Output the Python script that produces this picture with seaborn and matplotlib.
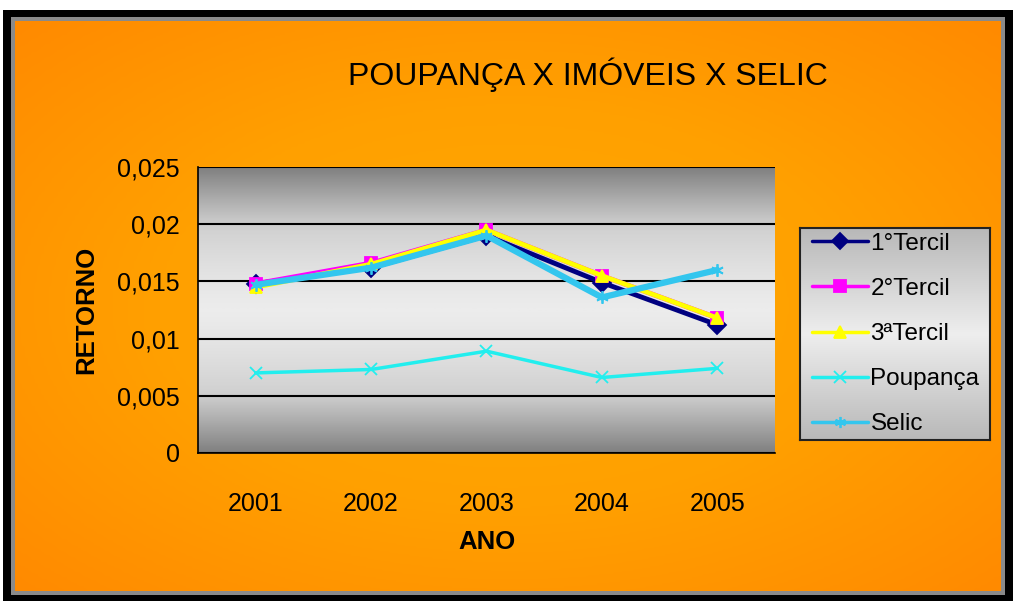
import numpy as np
import pandas as pd
import matplotlib
matplotlib.use("Agg")
import matplotlib.pyplot as plt
from matplotlib.patches import Rectangle
from matplotlib.colors import LinearSegmentedColormap
import seaborn as sns

anos = ["2001", "2002", "2003", "2004", "2005"]
tercil_1 = [0.0148, 0.0162, 0.0190, 0.0149, 0.0112]
tercil_2 = [0.0148, 0.0166, 0.0195, 0.0155, 0.0118]
tercil_3 = [0.0145, 0.0165, 0.0195, 0.0155, 0.0118]
poupanca = [0.0070, 0.0073, 0.0089, 0.0066, 0.0074]
selic = [0.0147, 0.0162, 0.0190, 0.0136, 0.0160]

series = {
    "1°Tercil": tercil_1,
    "2°Tercil": tercil_2,
    "3ªTercil": tercil_3,
    "Poupança": poupanca,
    "Selic": selic,
}
cores = {"1°Tercil": "#000080", "2°Tercil": "#ff00ff", "3ªTercil": "#ffff00",
         "Poupança": "#22eeee", "Selic": "#33c6ee"}
marcadores = {"1°Tercil": "D", "2°Tercil": "s", "3ªTercil": "^",
              "Poupança": "x", "Selic": (6, 2, 0)}
larguras = {"1°Tercil": 3.5, "2°Tercil": 3.5, "3ªTercil": 3.5,
            "Poupança": 2.5, "Selic": 4.5}

rows = []
for nome, vals in series.items():
    for i, v in enumerate(vals):
        rows.append({"pos": i, "ano": anos[i], "serie": nome, "retorno": v})
df = pd.DataFrame(rows)

sns.set_theme(style="white")
plt.rcParams["font.family"] = ["Liberation Sans", "DejaVu Sans"]
plt.rcParams["text.color"] = "black"
plt.rcParams["axes.labelcolor"] = "black"

W, H = 1017, 603
fig = plt.figure(figsize=(W / 100, H / 100), dpi=100)
fig.patch.set_facecolor("white")

def fx(px):
    return px / W

def fy(py):
    return 1 - py / H

# background axes in pixel coordinates: black frame, gray edge, orange gradient
bg = fig.add_axes([0, 0, 1, 1], zorder=-1)
bg.set_axis_off()
bg.add_patch(Rectangle((3, 10), 1010, 591, facecolor="black", edgecolor="none"))
bg.add_patch(Rectangle((11, 17), 994, 578, facecolor="#8a8a8a", edgecolor="none"))
yy, xx = np.mgrid[-1:1:200j, -1:1:300j]
rad = np.sqrt(xx ** 2 + yy ** 2) / np.sqrt(2)
orange = LinearSegmentedColormap.from_list("org", ["#ffaa00", "#ffa000", "#ff8a00"])
bg.imshow(rad, cmap=orange, aspect="auto", extent=[15, 1001, 591, 21], zorder=2)
bg.set_xlim(0, W)
bg.set_ylim(H, 0)

# plot area
ax = fig.add_axes([fx(198), fy(453), fx(577), 286 / H])
grad = np.abs(np.linspace(-1, 1, 256)).reshape(-1, 1) ** 1.3
grays = LinearSegmentedColormap.from_list("gr", ["#ececec", "#d0d0d0", "#808080"])
ax.imshow(grad, cmap=grays, aspect="auto", extent=[-0.5, 4.5, 0, 0.025], zorder=0)

for nome in series:
    sub = df[df["serie"] == nome]
    sns.lineplot(data=sub, x="pos", y="retorno", ax=ax, color=cores[nome],
                 marker=marcadores[nome], markersize=9, linewidth=larguras[nome],
                 markeredgecolor=cores[nome], markeredgewidth=1.3, label=nome, zorder=3)

ax.set_xlim(-0.5, 4.5)
ax.set_ylim(0, 0.025)
yt = [0, 0.005, 0.01, 0.015, 0.02, 0.025]
ax.set_yticks(yt)
ax.set_yticklabels(["0", "0,005", "0,01", "0,015", "0,02", "0,025"], fontsize=18)
ax.set_xticks(range(len(anos)))
ax.set_xticklabels(anos, fontsize=18)
ax.set_xticks(np.arange(-0.5, 5, 1), minor=True)
ax.tick_params(axis="x", which="major", length=0, pad=28, labelcolor="black")
ax.tick_params(axis="x", which="minor", length=8, width=1.2, color="black", direction="out")
ax.tick_params(axis="y", length=7, width=1.2, color="black", direction="out", pad=6,
               labelcolor="black")
ax.yaxis.grid(True, color="black", linewidth=1.5, zorder=1)
ax.set_axisbelow(False)
for s in ["top", "right"]:
    ax.spines[s].set_visible(False)
for s in ["left", "bottom"]:
    ax.spines[s].set_color("black")
    ax.spines[s].set_linewidth(1.2)
ax.set_xlabel("ANO", fontsize=18.5, fontweight="bold", labelpad=10)
ax.set_ylabel("RETORNO", fontsize=18.5, fontweight="bold", labelpad=14)
ax.set_facecolor("none")

handles, labels = ax.get_legend_handles_labels()
ax.get_legend().remove()

# legend box with gray gradient
lax = fig.add_axes([fx(800), fy(440), fx(190), 212 / H])
lgrad = np.abs(np.linspace(-1, 1, 256)).reshape(-1, 1)
lgr = LinearSegmentedColormap.from_list("lg", ["#eeeeee", "#b8b8b8"])
lax.imshow(lgrad, cmap=lgr, aspect="auto", extent=[0, 1, 0, 1])
lax.set_xticks([])
lax.set_yticks([])
for s in lax.spines.values():
    s.set_color("#222222")
    s.set_linewidth(1.5)
leg = lax.legend(handles, labels, loc="center left", frameon=False, fontsize=17.5,
                 handlelength=2.3, handletextpad=0.1, labelspacing=0.95, borderaxespad=0.1)
for line in leg.get_lines():
    line.set_linewidth(2.5)
    line.set_markersize(8)

fig.text(fx(588), fy(75), "POUPANÇA X IMÓVEIS X SELIC", ha="center", va="center",
         fontsize=23, color="black")

fig.savefig("out.png", dpi=100)
